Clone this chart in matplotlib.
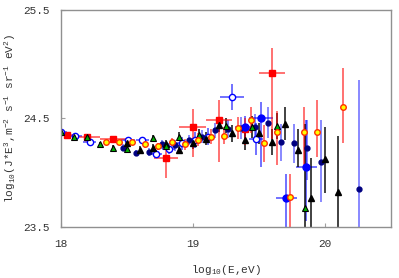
import numpy as np
import matplotlib
matplotlib.use('Agg')
import matplotlib.pyplot as plt

plt.rcParams['font.family'] = ['Liberation Mono', 'DejaVu Sans']
plt.rcParams['mathtext.fontset'] = 'custom'
plt.rcParams['mathtext.rm'] = 'Liberation Mono'
plt.rcParams['mathtext.it'] = 'Liberation Mono'

# red filled squares
sq_x = [18.05, 18.20, 18.40, 18.80, 19.00, 19.20, 19.40, 19.60]
sq_y = [24.35, 24.33, 24.31, 24.13, 24.42, 24.48, 24.40, 24.92]
sq_lo = [0.02, 0.02, 0.03, 0.18, 0.28, 0.38, 0.15, 0.61]
sq_hi = [0.02, 0.02, 0.03, 0.09, 0.17, 0.19, 0.10, 0.23]
sq_xe = [0.05, 0.10, 0.10, 0.09, 0.10, 0.10, 0.05, 0.10]

# orange/yellow circles
oc_x = [18.34, 18.44, 18.54, 18.64, 18.74, 18.84, 18.94, 19.04, 19.14, 19.24,
        19.34, 19.44, 19.54, 19.64, 19.74, 19.84, 19.94, 20.14]
oc_y = [24.28, 24.28, 24.28, 24.26, 24.24, 24.28, 24.26, 24.30, 24.33, 24.34,
        24.41, 24.48, 24.27, 24.37, 23.77, 24.37, 24.37, 24.60]
oc_lo = [0.02, 0.02, 0.02, 0.03, 0.03, 0.04, 0.05, 0.06, 0.07, 0.08,
         0.10, 0.12, 0.17, 0.30, 0.40, 0.32, 0.23, 0.33]
oc_hi = [0.02, 0.02, 0.02, 0.03, 0.03, 0.04, 0.05, 0.06, 0.07, 0.08,
         0.10, 0.12, 0.17, 0.20, 0.22, 0.23, 0.30, 0.36]

# blue open circles
bo_x = [18.00, 18.11, 18.22, 18.51, 18.62, 18.72, 18.82, 18.92, 19.02, 19.12, 19.30, 19.48]
bo_y = [24.37, 24.34, 24.28, 24.30, 24.30, 24.17, 24.22, 24.27, 24.30, 24.33, 24.70, 24.31]
bo_err = [0.02, 0.02, 0.02, 0.03, 0.03, 0.04, 0.05, 0.06, 0.07, 0.08, 0.12, 0.15]
bo_xe = [0.05, 0.05, 0.05, 0.05, 0.05, 0.05, 0.05, 0.05, 0.05, 0.05, 0.09, 0.05]

# blue filled circles
bf_x = [19.40, 19.52, 19.71, 19.86]
bf_y = [24.42, 24.50, 23.76, 24.05]
bf_lo = [0.10, 0.45, 0.40, 0.50]
bf_hi = [0.10, 0.15, 0.23, 0.43]
bf_xe = [0.08, 0.09, 0.08, 0.08]

# navy dots
nv_x = [18.47, 18.57, 18.67, 18.77, 18.87, 18.97, 19.07, 19.17, 19.27, 19.37,
        19.47, 19.57, 19.67, 19.77, 19.87, 19.97, 20.26]
nv_y = [24.23, 24.18, 24.19, 24.26, 24.25, 24.30, 24.33, 24.39, 24.40, 24.41,
        24.42, 24.46, 24.28, 24.27, 24.23, 24.10, 23.85]
nv_lo = [0.03, 0.03, 0.04, 0.04, 0.05, 0.05, 0.06, 0.07, 0.08, 0.10,
         0.12, 0.14, 0.17, 0.18, 0.30, 0.37, 0.50]
nv_hi = [0.03, 0.03, 0.04, 0.04, 0.05, 0.05, 0.06, 0.07, 0.08, 0.10,
         0.12, 0.14, 0.17, 0.18, 0.25, 0.38, 1.00]

# green triangles
gt_x = [18.00, 18.10, 18.20, 18.30, 18.40, 18.50, 18.70, 18.80, 18.90, 19.05,
        19.25, 19.45, 19.64, 19.85]
gt_y = [24.37, 24.33, 24.33, 24.26, 24.23, 24.22, 24.32, 24.24, 24.33, 24.35,
        24.43, 24.42, 24.43, 23.67]
gt_lo = [0.02, 0.02, 0.02, 0.02, 0.02, 0.02, 0.03, 0.03, 0.04, 0.05,
         0.07, 0.10, 0.12, 0.40]
gt_hi = [0.02, 0.02, 0.02, 0.02, 0.02, 0.02, 0.03, 0.03, 0.04, 0.05,
         0.07, 0.10, 0.12, 0.78]

# black triangles
kt_x = [18.50, 18.60, 18.70, 18.80, 18.90, 19.00, 19.10, 19.20, 19.30, 19.40,
        19.50, 19.60, 19.70, 19.80, 19.90, 20.00, 20.10]
kt_y = [24.27, 24.21, 24.23, 24.26, 24.21, 24.27, 24.31, 24.44, 24.36, 24.30,
        24.36, 24.28, 24.45, 24.21, 23.76, 24.12, 23.82]
kt_lo = [0.03, 0.03, 0.03, 0.04, 0.04, 0.05, 0.06, 0.07, 0.08, 0.09,
         0.10, 0.12, 0.15, 0.16, 0.40, 0.31, 0.40]
kt_hi = [0.03, 0.03, 0.03, 0.04, 0.04, 0.05, 0.06, 0.07, 0.08, 0.09,
         0.10, 0.12, 0.15, 0.19, 0.37, 0.30, 0.52]

fig = plt.figure(figsize=(3.99, 2.78), dpi=100)
ax = fig.add_axes([0.152, 0.185, 0.827, 0.779])

elw = 1.3
ax.errorbar(nv_x, nv_y, yerr=[nv_lo, nv_hi], fmt='none', ecolor='#0000ff', alpha=0.5, elinewidth=elw)
ax.errorbar(bo_x, bo_y, yerr=bo_err, xerr=bo_xe, fmt='none', ecolor='#0000ff', alpha=0.6, elinewidth=elw)
ax.errorbar(bf_x, bf_y, yerr=[bf_lo, bf_hi], xerr=bf_xe, fmt='none', ecolor='#0000ff', alpha=0.6, elinewidth=elw)
ax.errorbar(kt_x, kt_y, yerr=[kt_lo, kt_hi], fmt='none', ecolor='black', alpha=0.8, elinewidth=elw)
ax.errorbar(gt_x, gt_y, yerr=[gt_lo, gt_hi], fmt='none', ecolor='black', alpha=0.8, elinewidth=elw)
ax.errorbar(oc_x, oc_y, yerr=[oc_lo, oc_hi], fmt='none', ecolor='#ff0000', alpha=0.6, elinewidth=elw)
ax.errorbar(sq_x, sq_y, yerr=[sq_lo, sq_hi], xerr=sq_xe, fmt='none', ecolor='#ff0000', alpha=0.6, elinewidth=elw)

# squares first so the low-energy ones sit under the other markers
ax.plot(sq_x, sq_y, 's', ms=4.5, mfc='#ff0000', mec='#ff0000')
ax.plot(bo_x, bo_y, 'o', ms=4.5, mfc='white', mec='#0000ff', mew=1)
ax.plot(nv_x, nv_y, 'o', ms=3.5, mfc='#000080', mec='#000080')
ax.plot(bf_x, bf_y, 'o', ms=5, mfc='#0000ff', mec='#0000ff')
ax.plot(kt_x, kt_y, '^', ms=4.5, mfc='black', mec='black')
ax.plot(gt_x, gt_y, '^', ms=4, mfc='#00b000', mec='black', mew=0.8)
ax.plot(oc_x, oc_y, 'o', ms=4, mfc='#ffff00', mec='#ff3000', mew=1)

ax.set_xlim(18, 20.5)
ax.set_ylim(23.5, 25.5)
ax.set_xticks([18, 19, 20])
ax.set_yticks([23.5, 24.5, 25.5])
ax.tick_params(direction='in', length=3, color='#a0a0a0', labelsize=8, labelcolor='#333333')
ax.tick_params(axis='x', pad=9)
ax.tick_params(axis='y', pad=8)
for s in ax.spines.values():
    s.set_color('#909090')
    s.set_linewidth(1)

ax.set_xlabel(r'log$_{10}$(E,eV)', fontsize=8, color='#333333')
ax.set_ylabel(r'log$_{10}$(J*E$^3$,m$^{-2}$ s$^{-1}$ sr$^{-1}$ eV$^2$)', fontsize=8, color='#333333')
ax.xaxis.set_label_coords(0.5, -0.17)
ax.yaxis.set_label_coords(-0.13, 0.5)

fig.savefig('out.png', dpi=100)
